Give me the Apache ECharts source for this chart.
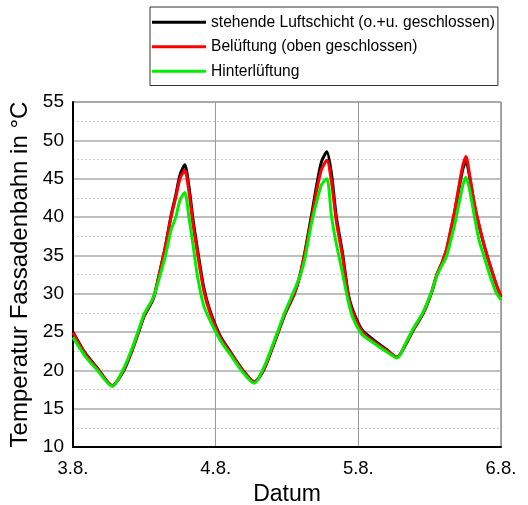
<!DOCTYPE html>
<html>
<head>
<meta charset="utf-8">
<script src="https://cdn.jsdelivr.net/npm/echarts@6/dist/echarts.min.js"></script>
<style>
  html, body { margin: 0; padding: 0; background: #fff; }
  #main { width: 528px; height: 505px; }
</style>
</head>
<body>
<div id="main"></div>
<script>
// Stunden ab 3.8. 0:00
var stunden = [0, 2, 4, 6.6, 8.5, 10, 11, 12, 13.5, 14.5, 15.5, 16.5, 17.3, 18, 18.8, 19.5, 20.2, 21, 22, 23,
  24.7, 26.4, 28.6, 30.5, 32, 33.3, 34.5, 35.7, 37.2, 38.2, 39, 39.7, 40.3, 41, 41.8, 42.7, 43.5, 44.3, 45.3, 46.3, 47,
  48.6, 50.5, 52.8, 54.5, 56, 57.2, 58.9, 60.3, 61.2, 62, 62.8, 63.5, 64.2, 65, 65.6, 66.1, 66.8, 67.5, 68.3, 69.2, 70.2, 71.2, 72];
var stehend = [25.0, 22.3, 20.4, 18.0, 19.9, 22.7, 24.9, 27.1, 29.3, 32.5, 36.0, 40.2, 42.9, 45.5, 46.8, 44.0, 39.6, 35.5, 30.8, 27.9,
  24.6, 22.5, 20.0, 18.5, 19.9, 22.4, 24.9, 27.4, 29.9, 32.4, 35.4, 38.4, 41.0, 44.2, 47.2, 48.5, 45.5, 40.0, 35.5, 30.0, 28.0,
  25.3, 24.0, 22.7, 21.7, 23.4, 25.2, 27.4, 30.1, 32.4, 33.9, 35.6, 38.0, 40.6, 44.0, 46.3, 47.3, 44.9, 41.7, 38.9, 36.2, 33.6, 31.2, 29.6];
var belueftung = [24.9, 22.2, 20.3, 18.0, 20.0, 22.8, 25.0, 27.2, 29.4, 32.5, 36.0, 40.0, 42.6, 45.0, 46.1, 43.3, 39.0, 35.0, 30.4, 27.6,
  24.4, 22.4, 19.9, 18.5, 20.0, 22.5, 25.0, 27.5, 30.0, 32.5, 35.3, 38.0, 40.5, 43.5, 46.2, 47.4, 44.5, 39.4, 35.0, 29.8, 27.7,
  25.1, 23.8, 22.6, 21.7, 23.5, 25.3, 27.5, 30.2, 32.5, 33.9, 35.7, 38.2, 40.8, 44.4, 46.8, 47.9, 45.1, 41.8, 39.0, 36.2, 33.6, 31.2, 29.6];
var hinterlueftung = [24.3, 21.9, 20.1, 17.9, 20.2, 23.0, 25.2, 27.4, 29.5, 32.0, 34.8, 38.3, 40.0, 42.2, 43.2, 40.0, 36.3, 32.0, 28.4, 26.6,
  24.0, 22.1, 19.7, 18.3, 20.2, 22.7, 25.2, 27.7, 30.4, 32.3, 34.5, 37.5, 39.8, 42.0, 44.2, 45.0, 40.0, 36.5, 32.8, 29.0, 27.0,
  24.7, 23.6, 22.4, 21.6, 23.6, 25.4, 27.6, 30.2, 32.3, 33.6, 34.8, 36.8, 39.0, 42.0, 44.2, 45.2, 43.2, 40.2, 37.0, 34.7, 32.2, 30.1, 29.2];
var tageLabels = ['3.8.', '4.8.', '5.8.', '6.8.'];
var namen = ['stehende Luftschicht (o.+u. geschlossen)', 'Belüftung (oben geschlossen)', 'Hinterlüftung'];
var farben = ['#000000', '#ff0000', '#00ee00'];

function paare(werte) {
  var res = [];
  for (var i = 0; i < stunden.length; i++) {
    res.push([stunden[i], werte[i]]);
  }
  return res;
}

var font = 'Liberation Sans, Arial, sans-serif';
var reihen = [stehend, belueftung, hinterlueftung];
var series = [];
for (var k = 0; k < reihen.length; k++) {
  series.push({
    name: namen[k],
    type: 'line',
    data: paare(reihen[k]),
    smooth: 0.25,
    symbol: 'none',
    lineStyle: { color: farben[k], width: 3 },
    itemStyle: { color: farben[k] },
    z: 3 + k
  });
}

var option = {
  animation: false,
  textStyle: { fontFamily: font },
  grid: {
    left: 73, right: 27, top: 102, bottom: 58,
    outerBoundsMode: 'none',
    show: true, borderColor: '#555', borderWidth: 1
  },
  legend: {
    orient: 'vertical',
    left: 150, top: 7,
    data: namen,
    icon: 'rect',
    itemWidth: 54, itemHeight: 3,
    itemGap: 6,
    padding: [6, 3, 5, 2],
    borderColor: '#333', borderWidth: 1,
    textStyle: { fontFamily: font, fontSize: 15.6, color: '#000', lineHeight: 18.5 }
  },
  xAxis: {
    type: 'value',
    min: 0, max: 72, interval: 24,
    name: 'Datum',
    nameLocation: 'middle',
    nameGap: 35,
    nameTextStyle: { fontFamily: font, fontSize: 23, color: '#000' },
    axisLine: { show: true, lineStyle: { color: '#000', width: 2 } },
    axisTick: { show: false },
    axisLabel: {
      margin: 12, fontSize: 18.5, color: '#000', fontFamily: font,
      formatter: function (v) { return tageLabels[Math.round(v / 24)]; }
    },
    splitLine: { show: true, lineStyle: { color: '#999', width: 1 } }
  },
  yAxis: {
    type: 'value',
    min: 10, max: 55, interval: 5,
    name: 'Temperatur Fassadenbahn in °C',
    nameLocation: 'middle',
    nameGap: 38,
    nameTextStyle: { fontFamily: font, fontSize: 24, color: '#000' },
    axisLine: { show: true, lineStyle: { color: '#000', width: 2 } },
    axisTick: { show: false },
    axisLabel: { margin: 9, fontSize: 19, color: '#000', fontFamily: font },
    splitLine: { show: true, lineStyle: { color: '#aaa', width: 1.5 } },
    minorTick: { show: false, splitNumber: 2 },
    minorSplitLine: { show: true, lineStyle: { color: '#ccc', width: 1, type: [2, 2] } }
  },
  series: series
};

var chart = echarts.init(document.getElementById('main'));
chart.setOption(option);
</script>
</body>
</html>
